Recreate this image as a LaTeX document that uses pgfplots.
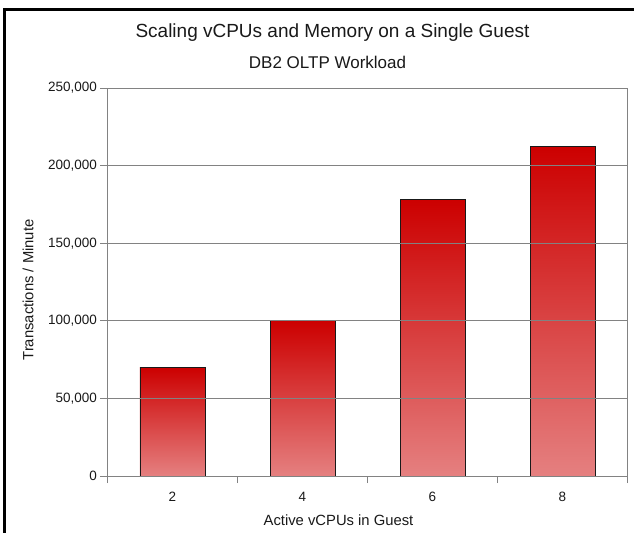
\documentclass[border=0pt]{standalone}
\usepackage{pgfplots}
\pgfplotsset{compat=1.18}
\usepackage{fontspec}
\setmainfont{Liberation Sans}
\definecolor{bartop}{RGB}{204,0,0}
\definecolor{barbot}{RGB}{229,128,128}
\definecolor{gridc}{RGB}{130,130,130}
\definecolor{txt}{RGB}{25,25,25}
\begin{document}
\begin{tikzpicture}
\begin{axis}[
  width=520bp, height=388bp, scale only axis,
  xmin=-0.5, xmax=3.5, ymin=0, ymax=250000,
  xtick={0,1,2,3}, xticklabels={2,4,6,8},
  minor xtick={-0.5,0.5,1.5,2.5,3.5},
  ytick={0,50000,100000,150000,200000,250000},
  scaled y ticks=false,
  /pgf/number format/.cd, fixed, 1000 sep={,}, assume math mode=true, /pgfplots/.cd,
  tick pos=left, tick align=outside,
  major tick length=7bp, minor tick length=7bp,
  major x tick style={draw=none},
  ymajorgrids,
  grid style={gridc, line width=0.9bp},
  axis line style={gridc, line width=0.9bp},
  every tick/.style={gridc, line width=0.9bp},
  minor tick style={gridc, line width=0.9bp},
  axis on top,
  ticklabel style={font=\fontsize{13.5bp}{16bp}\selectfont, text=txt},
  xticklabel style={yshift=-6bp},
  xlabel={Active vCPUs in Guest},
  ylabel={Transactions / Minute},
  xlabel style={at={([xshift=-29bp,yshift=-44bp]axis description cs:0.5,0)}, anchor=center, font=\fontsize{14.8bp}{17bp}\selectfont, text=txt},
  ylabel style={at={([xshift=-79.5bp,yshift=-8bp]axis description cs:0,0.5)}, anchor=center, font=\fontsize{14.8bp}{17bp}\selectfont, text=txt},
  title={Scaling vCPUs and Memory on a Single Guest},
  title style={at={([xshift=-35bp,yshift=49bp]axis description cs:0.5,1)}, anchor=center, font=\fontsize{19bp}{22bp}\selectfont, text=txt},
  ybar, bar width=0.5, bar shift=0pt,
]
\addplot[draw=black!90, line width=0.8bp, top color=bartop, bottom color=barbot] coordinates {(0,70000)};
\addplot[draw=black!90, line width=0.8bp, top color=bartop, bottom color=barbot] coordinates {(1,100000)};
\addplot[draw=black!90, line width=0.8bp, top color=bartop, bottom color=barbot] coordinates {(2,178000)};
\addplot[draw=black!90, line width=0.8bp, top color=bartop, bottom color=barbot] coordinates {(3,212500)};
\coordinate (sw) at (rel axis cs:0,0);
\coordinate (ne) at (rel axis cs:1,1);
\coordinate (tc) at (rel axis cs:0.5,1);
\end{axis}
\node[anchor=center, font=\fontsize{17bp}{20bp}\selectfont, text=txt] at ([xshift=-40bp,yshift=26bp]tc) {DB2 OLTP Workload};
\fill[black] ([xshift=-104bp,yshift=-80bp]sw) rectangle ([xshift=-101.5bp,yshift=79.5bp]ne -| sw);
\fill[black] ([xshift=-104bp,yshift=76.5bp]ne -| sw) rectangle ([xshift=30bp,yshift=79.5bp]ne);
\pgfresetboundingbox
\path[use as bounding box] ([xshift=-107.5bp,yshift=-57bp]sw) rectangle ([xshift=6.5bp,yshift=88bp]ne);
\end{tikzpicture}
\end{document}
